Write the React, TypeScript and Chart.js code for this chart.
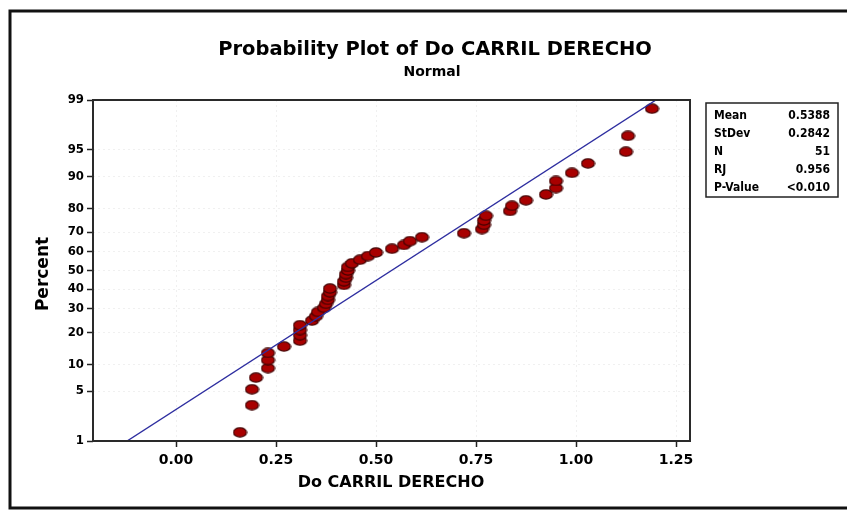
import React, { useEffect, useRef } from "react";
import { Chart, registerables } from "chart.js";

Chart.register(...registerables);

// Do CARRIL DERECHO observations, sorted ascending
const doValues = [
  0.16, 0.19, 0.19, 0.2, 0.23, 0.23, 0.23, 0.27, 0.31, 0.31,
  0.31, 0.31, 0.34, 0.35, 0.355, 0.37, 0.375, 0.38, 0.38, 0.385,
  0.385, 0.42, 0.42, 0.425, 0.425, 0.43, 0.43, 0.44, 0.46, 0.48,
  0.5, 0.54, 0.57, 0.585, 0.615, 0.72, 0.765, 0.77, 0.77, 0.775,
  0.835, 0.84, 0.875, 0.925, 0.95, 0.95, 0.99, 1.03, 1.125, 1.13,
  1.19,
];

// Median-rank plotting positions (percent) for the sorted values
const plotPercents = [
  1.36, 3.31, 5.25, 7.2, 9.14, 11.09, 13.04, 14.98, 16.93, 18.87,
  20.82, 22.76, 24.71, 26.65, 28.6, 30.54, 32.49, 34.44, 36.38, 38.33,
  40.27, 42.22, 44.16, 46.11, 48.05, 50.0, 51.95, 53.89, 55.84, 57.78,
  59.73, 61.67, 63.62, 65.56, 67.51, 69.46, 71.4, 73.35, 75.29, 77.24,
  79.18, 81.13, 83.07, 85.02, 86.96, 88.91, 90.86, 92.8, 94.75, 96.69,
  98.64,
];

const percentTicks = [1, 5, 10, 20, 30, 40, 50, 60, 70, 80, 90, 95, 99];
const xTickValues = [0, 0.25, 0.5, 0.75, 1.0, 1.25];

const statNames = ["Mean", "StDev", "N", "RJ", "P-Value"];
const statValues = ["0.5388", "0.2842", "51", "0.956", "<0.010"];
const fitMean = 0.5388;
const fitStDev = 0.2842;

const titleText = "Probability Plot of Do CARRIL DERECHO";
const subtitleText = "Normal";
const xTitle = "Do CARRIL DERECHO";
const yTitle = "Percent";

const FONT = "'DejaVu Sans Condensed', 'DejaVu Sans', sans-serif";
const WIDE = "'DejaVu Sans', sans-serif";

// Inverse standard normal CDF (Acklam's rational approximation)
function probit(p: number): number {
  const a = [-39.69683028665376, 220.9460984245205, -275.9285104469687, 138.357751867269, -30.66479806614716, 2.506628277459239];
  const b = [-54.47609879822406, 161.5858368580409, -155.6989798598866, 66.80131188771972, -13.28068155288572];
  const c = [-0.007784894002430293, -0.3223964580411365, -2.400758277161838, -2.549732539343734, 4.374664141464968, 2.938163982698783];
  const d = [0.007784695709041462, 0.3224671290700398, 2.445134137142996, 3.754408661907416];
  const pl = 0.02425;
  if (p < pl) {
    const q = Math.sqrt(-2 * Math.log(p));
    return (((((c[0] * q + c[1]) * q + c[2]) * q + c[3]) * q + c[4]) * q + c[5]) /
      ((((d[0] * q + d[1]) * q + d[2]) * q + d[3]) * q + 1);
  }
  if (p <= 1 - pl) {
    const q = p - 0.5;
    const r = q * q;
    return ((((((a[0] * r + a[1]) * r + a[2]) * r + a[3]) * r + a[4]) * r + a[5]) * q) /
      (((((b[0] * r + b[1]) * r + b[2]) * r + b[3]) * r + b[4]) * r + 1);
  }
  const q = Math.sqrt(-2 * Math.log(1 - p));
  return -(((((c[0] * q + c[1]) * q + c[2]) * q + c[3]) * q + c[4]) * q + c[5]) /
    ((((d[0] * q + d[1]) * q + d[2]) * q + d[3]) * q + 1);
}

function makeMarker(): HTMLCanvasElement {
  const m = document.createElement("canvas");
  m.width = 15;
  m.height = 11;
  const g = m.getContext("2d")!;
  g.beginPath();
  g.ellipse(7.5, 5.5, 6.5, 4.6, 0, 0, Math.PI * 2);
  g.fillStyle = "#a80000";
  g.fill();
  g.lineWidth = 1.2;
  g.strokeStyle = "#400000";
  g.stroke();
  return m;
}

const decorations = {
  id: "decorations",
  afterDraw(chart: any) {
    const ctx = chart.ctx as CanvasRenderingContext2D;
    const area = chart.chartArea;
    ctx.save();

    // outer frame
    ctx.strokeStyle = "#111";
    ctx.lineWidth = 3;
    ctx.strokeRect(10, 11, 860, 497);

    // plot frame
    ctx.strokeStyle = "#2a2a2a";
    ctx.lineWidth = 2;
    ctx.strokeRect(area.left, area.top, area.right - area.left, area.bottom - area.top);

    ctx.fillStyle = "#000";
    ctx.textBaseline = "middle";
    ctx.textAlign = "center";
    ctx.font = `bold 19.5px ${WIDE}`;
    ctx.fillText(titleText, 435, 50);
    ctx.font = `bold 14px ${WIDE}`;
    ctx.fillText(subtitleText, 432, 72);

    ctx.font = `bold 16px ${WIDE}`;
    ctx.fillText(xTitle, 391, 483);

    ctx.save();
    ctx.translate(44, 274);
    ctx.rotate(-Math.PI / 2);
    ctx.font = `bold 17px ${WIDE}`;
    ctx.fillText(yTitle, 0, 0);
    ctx.restore();

    // statistics box
    ctx.strokeStyle = "#222";
    ctx.lineWidth = 1.5;
    ctx.strokeRect(706, 103, 132, 94);
    ctx.font = `bold 12px ${FONT}`;
    statNames.forEach((name, i) => {
      const y = 116 + i * 18;
      ctx.textAlign = "left";
      ctx.fillText(name, 714, y);
      ctx.textAlign = "right";
      ctx.fillText(statValues[i], 830, y);
    });
    ctx.restore();
  },
};

export default function App() {
  const canvasRef = useRef<HTMLCanvasElement | null>(null);

  useEffect(() => {
    if (!canvasRef.current) return;
    const zTop = probit(0.99);
    const zBottom = probit(0.01);
    const points = doValues.map((v, i) => ({ x: v, y: probit(plotPercents[i] / 100) }));
    const fitLine = [
      { x: fitMean + zBottom * fitStDev, y: zBottom },
      { x: fitMean + zTop * fitStDev, y: zTop },
    ];
    const marker = makeMarker();

    const chart = new Chart(canvasRef.current, {
      type: "scatter",
      data: {
        datasets: [
          {
            type: "line",
            data: fitLine,
            borderColor: "#2e2ea0",
            borderWidth: 1.4,
            pointRadius: 0,
            fill: false,
          } as any,
          {
            data: points,
            pointStyle: marker as any,
            pointRadius: 6,
          },
        ],
      },
      options: {
        animation: false,
        responsive: false,
        devicePixelRatio: 1,
        layout: { padding: { left: 0, top: 100, right: 157, bottom: 0 } },
        plugins: { legend: { display: false }, tooltip: { enabled: false } },
        scales: {
          x: {
            type: "linear",
            min: -0.2075,
            max: 1.285,
            afterBuildTicks: (s: any) => {
              s.ticks = xTickValues.map((v) => ({ value: v }));
            },
            afterFit: (s: any) => {
              s.height = 71;
            },
            grid: {
              color: "rgba(0,0,0,0.06)",
              tickColor: "#222",
              tickLength: 6,
              tickWidth: 1.5,
            },
            border: { display: false, dash: [2, 3] },
            ticks: {
              color: "#000",
              padding: 5,
              font: { family: WIDE, size: 14, weight: "bold" },
              callback: (v: any) => Number(v).toFixed(2),
            },
          },
          y: {
            type: "linear",
            min: zBottom,
            max: zTop,
            afterBuildTicks: (s: any) => {
              s.ticks = percentTicks.map((p) => ({ value: probit(p / 100) }));
            },
            afterFit: (s: any) => {
              s.width = 93;
            },
            grid: {
              color: "rgba(0,0,0,0.06)",
              tickColor: "#222",
              tickLength: 6,
              tickWidth: 1.5,
            },
            border: { display: false, dash: [2, 3] },
            ticks: {
              color: "#000",
              padding: 3,
              font: { family: FONT, size: 13, weight: "bold" },
              callback: (_v: any, i: number) => String(percentTicks[i]),
            },
          },
        },
      },
      plugins: [decorations],
    });
    return () => chart.destroy();
  }, []);

  return (
    <div style={{ position: "absolute", left: 0, top: 0, width: 847, height: 512, background: "#fff" }}>
      <canvas ref={canvasRef} width={847} height={512} style={{ width: 847, height: 512 }} />
    </div>
  );
}
